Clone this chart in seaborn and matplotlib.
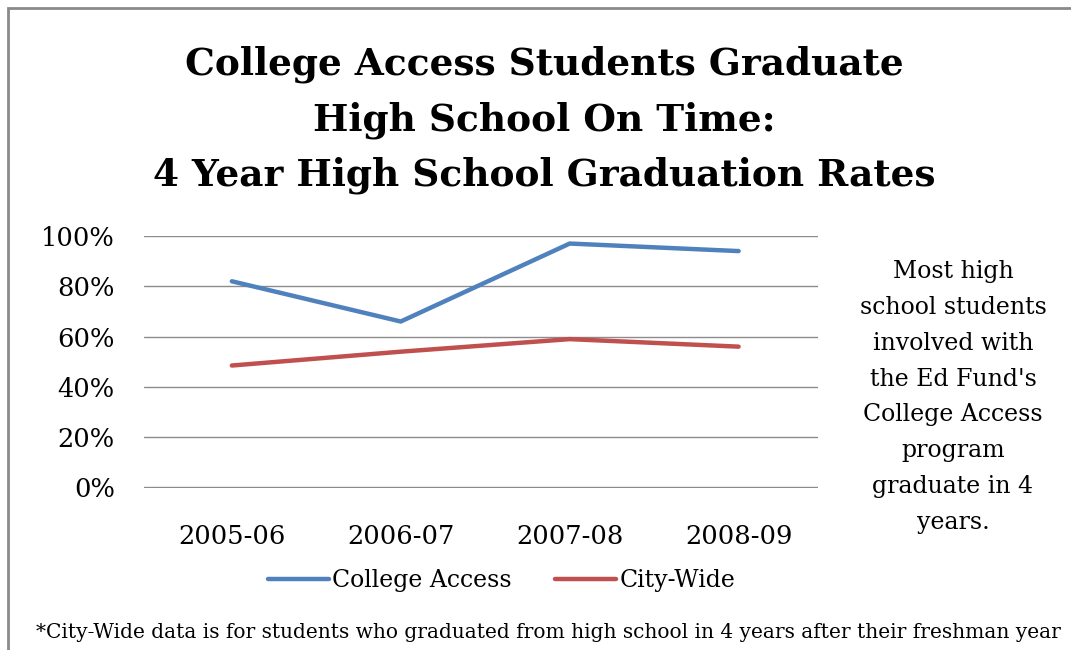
import numpy as np
import pandas as pd
import matplotlib.pyplot as plt
import seaborn as sns
from matplotlib.lines import Line2D
from matplotlib.patches import Rectangle

years = ['2005-06', '2006-07', '2007-08', '2008-09']
college_access = [0.82, 0.66, 0.97, 0.94]
city_wide = [0.485, 0.54, 0.59, 0.56]
series_names = ['College Access', 'City-Wide']
colors = ['#4F81BD', '#C0504D']
y_ticks = [0, 0.2, 0.4, 0.6, 0.8, 1.0]
y_labels = ['0%', '20%', '40%', '60%', '80%', '100%']

df = pd.DataFrame({'Year': years * 2,
                   'Rate': college_access + city_wide,
                   'Series': [series_names[0]] * 4 + [series_names[1]] * 4})

sns.set_style('white')
plt.rcParams['font.family'] = ['DejaVu Serif']
plt.rcParams['text.color'] = 'black'
plt.rcParams['xtick.color'] = 'black'
plt.rcParams['ytick.color'] = 'black'

W, H = 1071, 650
fig = plt.figure(figsize=(W / 100, H / 100), dpi=100)
ax = fig.add_axes([144 / W, 1 - 488 / H, (818 - 144) / W, (488 - 236) / H])

sns.lineplot(data=df, x='Year', y='Rate', hue='Series', palette=colors,
             linewidth=3.2, ax=ax, legend=False, sort=False)

ax.set_ylim(-0.002, 1)
ax.set_xlim(-0.52, 3.47)
ax.set_yticks(y_ticks)
ax.set_yticklabels(y_labels, fontsize=18.5)
ax.set_xticks(range(len(years)))
ax.set_xticklabels(years, fontsize=18.5)
ax.tick_params(axis='y', length=0, pad=21)
ax.tick_params(axis='x', length=0, pad=26)
ax.grid(axis='y', color='#8c8c8c', linewidth=1)
ax.set_axisbelow(True)
for s in ax.spines.values():
    s.set_visible(False)
ax.set_xlabel('')
ax.set_ylabel('')

fig.text(0.5 * (183 + 905) / W, 1 - 120 / H,
         'College Access Students Graduate\nHigh School On Time:\n4 Year High School Graduation Rates',
         ha='center', va='center', fontsize=27, fontweight='bold', linespacing=1.62)

fig.text(953 / W, 1 - 397 / H,
         "Most high\nschool students\ninvolved with\nthe Ed Fund's\nCollege Access\nprogram\ngraduate in 4\nyears.",
         ha='center', va='center', fontsize=17, linespacing=1.72)

handles = [Line2D([0], [0], color=c, linewidth=3.2) for c in colors]
fig.legend(handles, series_names, loc='center', bbox_to_anchor=(0.5 * (258 + 745) / W, 1 - 581 / H),
           ncol=2, frameon=False, fontsize=17, handlelength=2.6, handletextpad=0.15,
           columnspacing=1.8)

fig.text(548 / W, 1 - 633 / H,
         '*City-Wide data is for students who graduated from high school in 4 years after their freshman year',
         ha='center', va='center', fontsize=14.5)

fig.patches.append(Rectangle((8 / W, -0.1), 1.2, 1 - 8 / H + 0.1, transform=fig.transFigure,
                             fill=False, edgecolor='#8a8a8a', linewidth=2))

fig.savefig('out.png', dpi=100)
